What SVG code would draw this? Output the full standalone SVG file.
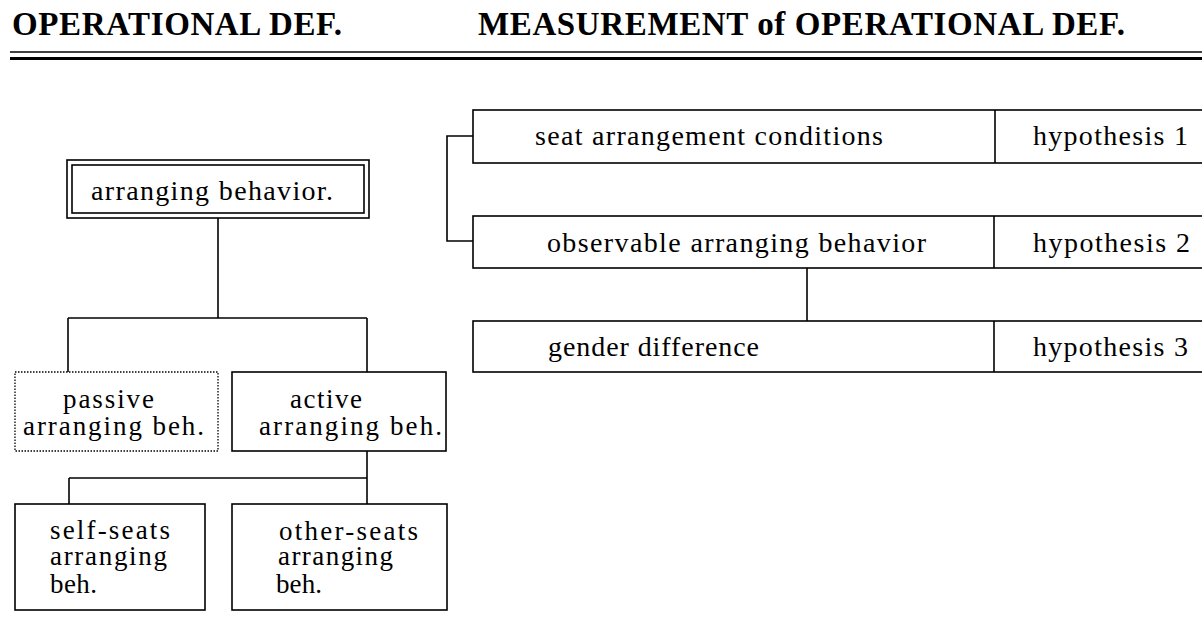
<svg xmlns="http://www.w3.org/2000/svg" width="1202" height="629" viewBox="0 0 1202 629">
<style>
  .hdr { font-family: "Liberation Serif", "Times New Roman", serif; font-weight: bold; font-size: 33px; fill: #000; }
  .t { font-family: "Liberation Serif", "Times New Roman", serif; font-size: 28px; fill: #000; }
  .m { font-family: "Liberation Serif", "Times New Roman", serif; font-size: 27px; fill: #000; }
  .box { fill: #fff; stroke: #000; stroke-width: 1.6; }
  .dot { fill: #fff; stroke: #000; stroke-width: 1.3; stroke-dasharray: 1.5 1.5; }
  .ln { fill: none; stroke: #000; stroke-width: 1.6; }
</style>
<rect x="0" y="0" width="1202" height="629" fill="#fff"/>

<g id="header">
  <text class="hdr" x="12" y="35" textLength="330" lengthAdjust="spacing">OPERATIONAL DEF.</text>
  <text class="hdr" x="478" y="35" textLength="647" lengthAdjust="spacing">MEASUREMENT of OPERATIONAL DEF.</text>
  <line x1="10" y1="52" x2="1202" y2="52" stroke="#000" stroke-width="1.5"/>
  <line x1="10" y1="58.5" x2="1202" y2="58.5" stroke="#000" stroke-width="3"/>
</g>

<g id="connectors">
  <path class="ln" d="M218 218 V318"/>
  <path class="ln" d="M68 318 H367"/>
  <path class="ln" d="M68 318 V372"/>
  <path class="ln" d="M367 318 V372"/>
  <path class="ln" d="M367 451 V504"/>
  <path class="ln" d="M69 478 H367"/>
  <path class="ln" d="M69 478 V504"/>
  <path class="ln" d="M473 136 H447 V241 H473"/>
  <path class="ln" d="M807 268 V321"/>
</g>

<g id="node-arranging-behavior">
  <rect class="box" x="67" y="160" width="302" height="58"/>
  <rect class="box" x="72" y="165" width="292" height="48"/>
  <text class="t" x="91" y="200" textLength="242" lengthAdjust="spacing">arranging behavior.</text>
</g>

<g id="node-passive">
  <rect class="dot" x="15" y="372" width="203" height="79"/>
  <text class="m" x="63" y="408" textLength="91" lengthAdjust="spacing">passive</text>
  <text class="m" x="23" y="435" textLength="181" lengthAdjust="spacing">arranging beh.</text>
</g>

<g id="node-active">
  <rect class="box" x="232" y="372" width="214" height="79"/>
  <text class="m" x="290" y="408" textLength="72" lengthAdjust="spacing">active</text>
  <text class="m" x="259" y="435" textLength="183" lengthAdjust="spacing">arranging beh.</text>
</g>

<g id="node-self-seats">
  <rect class="box" x="15" y="504" width="190" height="106"/>
  <text class="m" x="50" y="539" textLength="120" lengthAdjust="spacing">self-seats</text>
  <text class="m" x="50" y="565" textLength="117" lengthAdjust="spacing">arranging</text>
  <text class="m" x="50" y="593" textLength="47" lengthAdjust="spacing">beh.</text>
</g>

<g id="node-other-seats">
  <rect class="box" x="232" y="504" width="215" height="106"/>
  <text class="m" x="279" y="540" textLength="139" lengthAdjust="spacing">other-seats</text>
  <text class="m" x="278" y="565" textLength="115" lengthAdjust="spacing">arranging</text>
  <text class="m" x="276" y="593" textLength="46" lengthAdjust="spacing">beh.</text>
</g>

<g id="node-seat-arrangement">
  <rect class="box" x="473" y="110" width="740" height="53"/>
  <line class="ln" x1="995" y1="110" x2="995" y2="163"/>
  <text class="t" x="535" y="145" textLength="348" lengthAdjust="spacing">seat arrangement conditions</text>
  <text class="t" x="1033" y="145" textLength="155" lengthAdjust="spacing">hypothesis 1</text>
</g>

<g id="node-observable">
  <rect class="box" x="473" y="216" width="740" height="52"/>
  <line class="ln" x1="994" y1="216" x2="994" y2="268"/>
  <text class="t" x="547" y="252" textLength="379" lengthAdjust="spacing">observable arranging behavior</text>
  <text class="t" x="1033" y="252" textLength="157" lengthAdjust="spacing">hypothesis 2</text>
</g>

<g id="node-gender">
  <rect class="box" x="473" y="321" width="740" height="51"/>
  <line class="ln" x1="994" y1="321" x2="994" y2="372"/>
  <text class="t" x="548" y="356" textLength="211" lengthAdjust="spacing">gender difference</text>
  <text class="t" x="1033" y="356" textLength="155" lengthAdjust="spacing">hypothesis 3</text>
</g>
</svg>
